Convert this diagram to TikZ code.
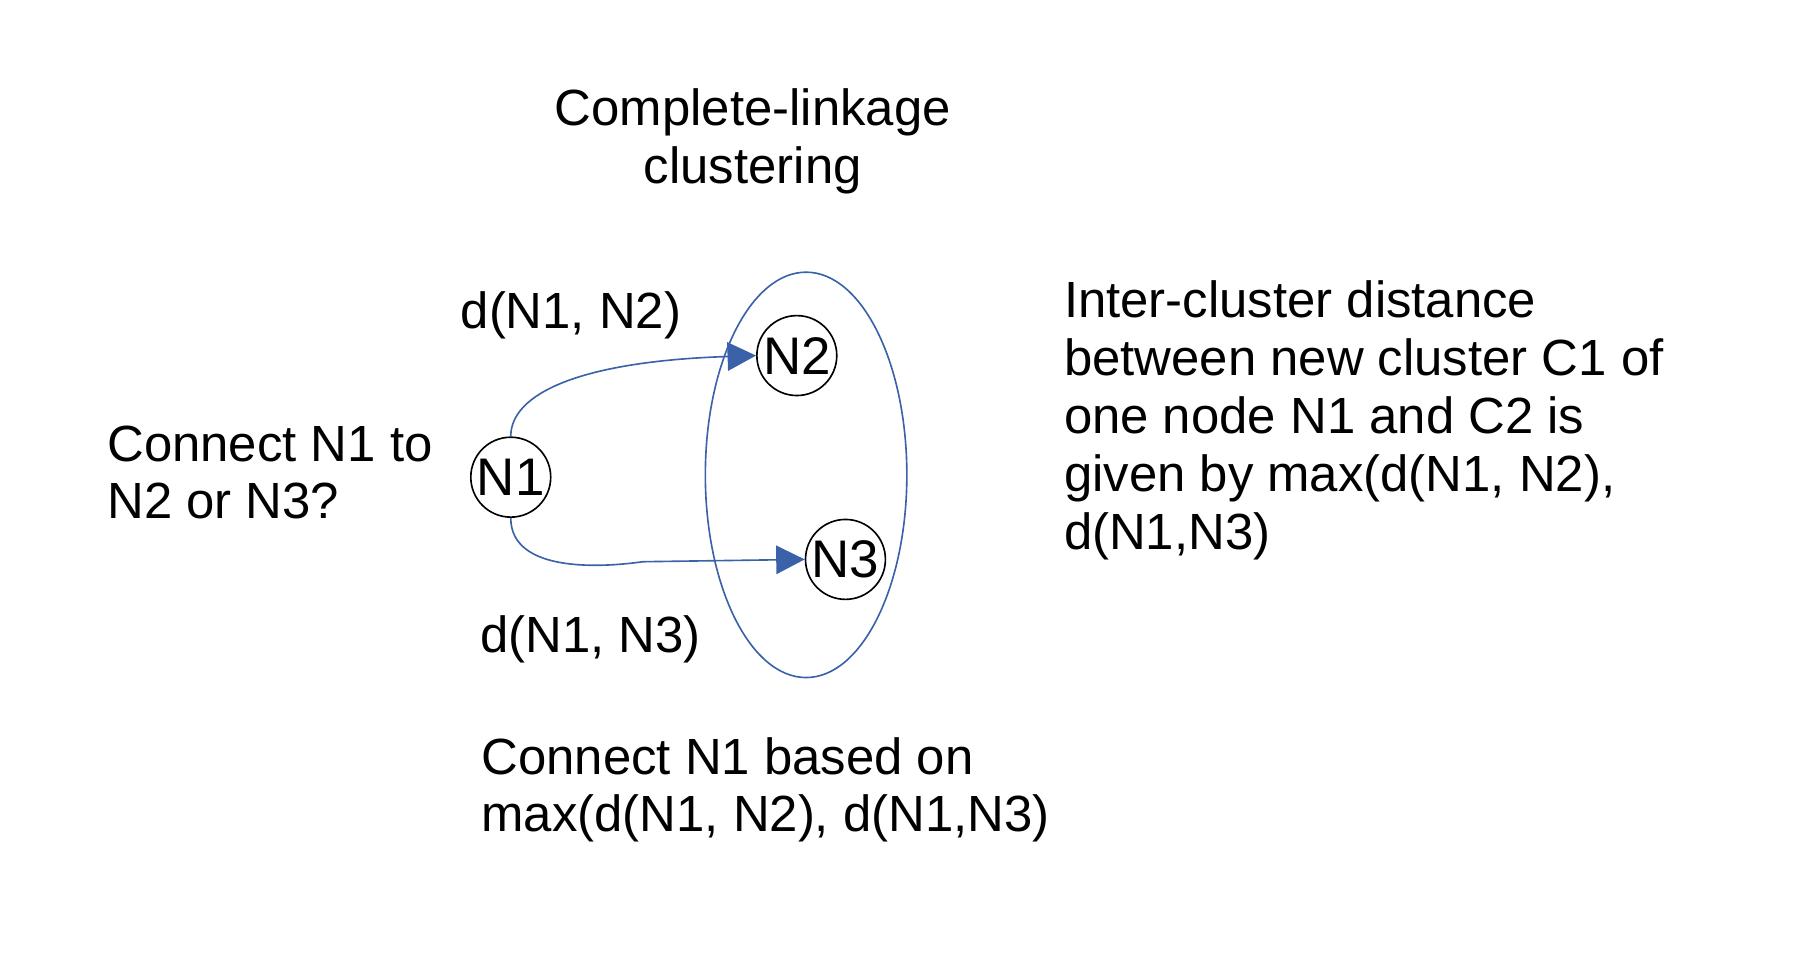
\documentclass[tikz,border=0pt]{standalone}
\usepackage{fontspec}
\setmainfont{Liberation Sans}
\usetikzlibrary{arrows.meta}
\definecolor{linkblue}{RGB}{59,98,168}
\tikzset{
	nd/.style={circle, draw, minimum size=0.69cm, inner sep=0pt, font=\fontsize{13}{14}\selectfont},
	txt/.style={align=left, font=\fontsize{12.5}{14.2}\selectfont, inner sep=0pt},
	link/.style={draw=linkblue, -{Triangle[length=7pt,width=7pt]}},
}
\begin{document}
\begin{tikzpicture}
			\useasboundingbox (0,0) rectangle (15.68,-8.25);
			\node[txt, align=center] (title) at (6.5,-1.22) {Complete-linkage\\clustering};
			\node[nd] (n1) at (4.41,-4.12) {N1};
			\node[nd] (n2) at (6.88,-3.07) {N2};
			\node[nd] (n3) at (7.30,-4.83) {N3};
			\draw[linkblue, thin] (6.96,-4.10) ellipse (0.87 and 1.75);
			\draw[link] (n1.north) .. controls (4.41,-3.40) and (5.0,-3.12) .. (n2.west);
			\draw[link] (n1.south) .. controls (4.41,-4.95) and (5.2,-4.90) .. (5.55,-4.85) -- (n3.west);
			\node[txt] (d12) at (4.93,-2.72) {d(N1, N2)};
			\node[txt] (d13) at (5.10,-5.52) {d(N1, N3)};
			\node[txt, anchor=west] (ask) at (0.92,-4.08) {Connect N1 to\\N2 or N3?};
			\node[txt, anchor=west] (inter) at (9.18,-3.63) {Inter-cluster distance\\between new cluster C1 of\\one node N1 and C2 is\\given by max(d(N1, N2),\\d(N1,N3)};
			\node[txt, anchor=west] (rule) at (4.15,-6.82) {Connect N1 based on\\max(d(N1, N2), d(N1,N3)};
		\end{tikzpicture}
\end{document}
